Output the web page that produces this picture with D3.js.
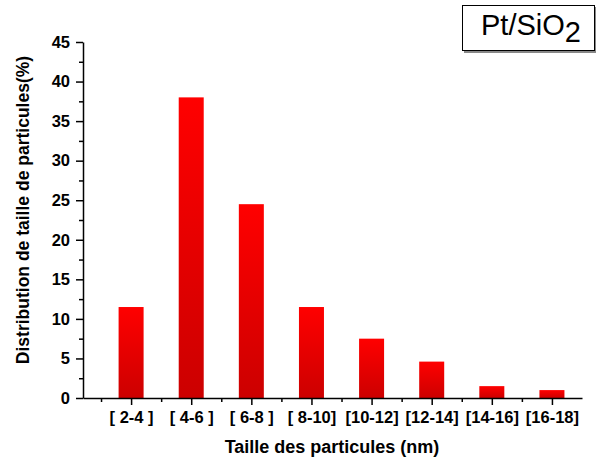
<!DOCTYPE html>
<html>
<head>
<meta charset="utf-8">
<script src="https://cdn.jsdelivr.net/npm/d3@7"></script>
<style>
  html, body { margin: 0; padding: 0; background: #fff; }
  svg { display: block; font-family: Arial, "Liberation Sans", sans-serif; }
</style>
</head>
<body>
<svg id="chart" width="596" height="459"></svg>
<script>
// Particle size classes (nm) and their share of the population (%)
const categories = ["[ 2-4 ]", "[ 4-6 ]", "[ 6-8 ]", "[ 8-10]", "[10-12]", "[12-14]", "[14-16]", "[16-18]"];
const values = [11.5, 38, 24.5, 11.5, 7.5, 4.6, 1.5, 1.0];
const yTicks = [0, 5, 10, 15, 20, 25, 30, 35, 40, 45];
const yMinorTicks = [2.5, 7.5, 12.5, 17.5, 22.5, 27.5, 32.5, 37.5, 42.5];

const svg = d3.select("#chart");
const plot = { left: 83, right: 582, top: 42, bottom: 398 };

// Categories sit on a linear index scale with padding on both ends
const x = d3.scaleLinear().domain([-0.8, 7.5]).range([plot.left, plot.right]);
const y = d3.scaleLinear().domain([0, 45]).range([plot.bottom, plot.top]);
const barWidth = 25;

// Vertical red gradient for bars
const defs = svg.append("defs");
const grad = defs.append("linearGradient")
  .attr("id", "barGrad").attr("x1", 0).attr("y1", 0).attr("x2", 0).attr("y2", 1);
grad.append("stop").attr("offset", "0%").attr("stop-color", "#ff0000");
grad.append("stop").attr("offset", "100%").attr("stop-color", "#cc0000");

// Bars
svg.append("g").selectAll("rect")
  .data(values)
  .join("rect")
  .attr("x", (d, i) => x(i) - barWidth / 2)
  .attr("y", d => y(d))
  .attr("width", barWidth)
  .attr("height", d => y(0) - y(d))
  .attr("fill", "url(#barGrad)");

// Y axis: major ticks with labels, minor ticks without
svg.append("g").attr("transform", `translate(${plot.left},0)`)
  .call(d3.axisLeft(y).tickValues(yTicks).tickSize(7).tickPadding(6).tickSizeOuter(0));
svg.append("g").attr("transform", `translate(${plot.left},0)`)
  .call(d3.axisLeft(y).tickValues(yMinorTicks).tickSize(4).tickFormat("").tickSizeOuter(0))
  .call(g => g.select(".domain").remove());

// X axis: major ticks at category centres, minor ticks at class boundaries
const idx = d3.range(categories.length);
svg.append("g").attr("transform", `translate(0,${plot.bottom})`)
  .call(d3.axisBottom(x).tickValues(idx).tickSize(7).tickPadding(6)
    .tickFormat(i => categories[i]).tickSizeOuter(0));
svg.append("g").attr("transform", `translate(0,${plot.bottom})`)
  .call(d3.axisBottom(x).tickValues(idx.map(i => i - 0.5)).tickSize(4).tickFormat("").tickSizeOuter(0))
  .call(g => g.select(".domain").remove());

svg.selectAll(".domain, .tick line").attr("stroke", "#000").attr("stroke-width", 1.5);
svg.selectAll(".tick text")
  .attr("fill", "#000")
  .style("font-size", "16.5px")
  .style("font-weight", "bold")
  .style("font-family", "Arial, 'Liberation Sans', sans-serif");

// Axis titles
svg.append("text")
  .attr("x", 332).attr("y", 453)
  .attr("text-anchor", "middle")
  .style("font-size", "18px").style("font-weight", "bold")
  .text("Taille des particules (nm)");

svg.append("text")
  .attr("transform", "translate(29,210) rotate(-90)")
  .attr("text-anchor", "middle")
  .style("font-size", "17.5px").style("font-weight", "bold")
  .text("Distribution de taille de particules(%)");

// Sample label box with drop shadow
const box = svg.append("g");
box.append("rect").attr("x", 464).attr("y", 7).attr("width", 133).attr("height", 46).attr("fill", "#888");
box.append("rect").attr("x", 462.5).attr("y", 5.5).attr("width", 132).attr("height", 45)
  .attr("fill", "#fff").attr("stroke", "#000").attr("stroke-width", 1);
const label = box.append("text").attr("x", 481).attr("y", 35)
  .style("font-size", "29px").attr("fill", "#000");
label.append("tspan").text("Pt/SiO");
label.append("tspan").attr("dy", 7).text("2");
</script>
</body>
</html>
